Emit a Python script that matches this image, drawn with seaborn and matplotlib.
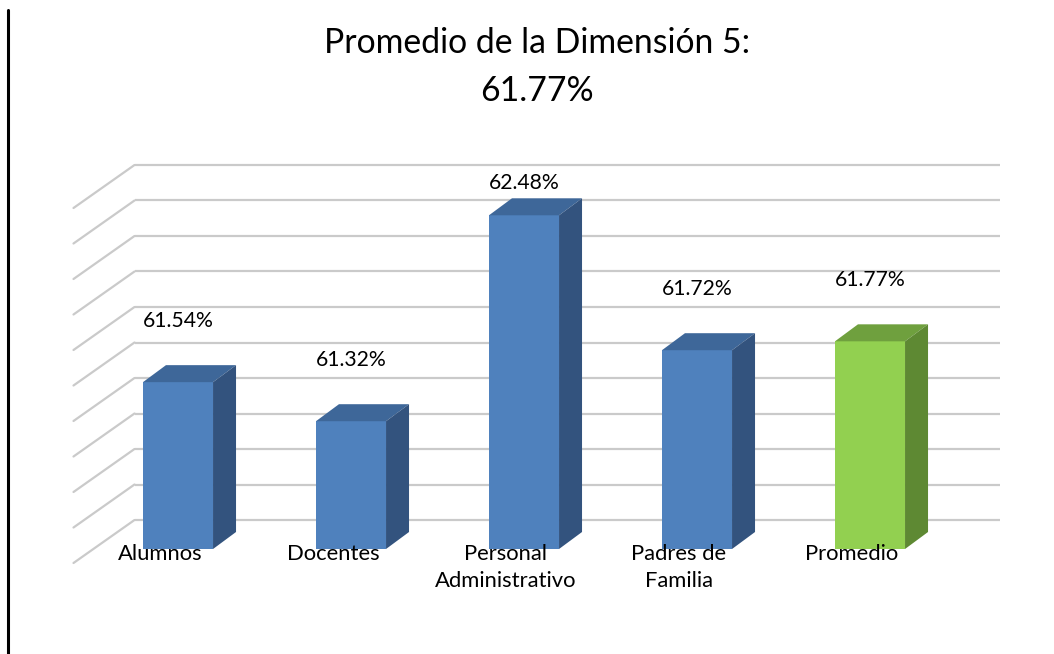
import numpy as np
import pandas as pd
import matplotlib
matplotlib.use("Agg")
import matplotlib.pyplot as plt
from matplotlib.patches import Polygon
from matplotlib.lines import Line2D
import seaborn as sns

# ---------------- data ----------------
categories = ["Alumnos", "Docentes", "Personal\nAdministrativo", "Padres de\nFamilia", "Promedio"]
values = [61.54, 61.32, 62.48, 61.72, 61.77]
value_labels = ["61.54%", "61.32%", "62.48%", "61.72%", "61.77%"]
title_lines = ["Promedio de la Dimensión 5:", "61.77%"]
axis_min, axis_max, axis_step = 60.6, 62.6, 0.2

# ---------------- style ----------------
front_colors = ["#4F81BD", "#4F81BD", "#4F81BD", "#4F81BD", "#92D050"]
top_colors = ["#3E6799", "#3E6799", "#3E6799", "#3E6799", "#6FA03E"]
side_colors = ["#33537E", "#33537E", "#33537E", "#33537E", "#5E8933"]
grid_color = "#CACACA"

W, H, DPI = 1054, 654, 100
X0_PX, STEP_PX = 178.0, 173.0          # pixel x of first category, spacing
BASE_PX, PX_PER_UNIT = 549.0, 177.5    # pixel y (from top) of axis_min on bar plane
BAR_DX, BAR_DY = 23.0, 17.0            # bar depth (px)
WALL_DX, WALL_DY = 43.0, 29.0          # back wall offset from bar plane (px)
FLOOR_DX, FLOOR_DY = -18.0, -14.0      # floor front edge offset (px)
LABEL_OFF_PX = 61.0
LABEL_TOP_PX = 183.0

sns.set_style("white")
plt.rcParams["font.family"] = ["Lato", "DejaVu Sans"]

fig = plt.figure(figsize=(W / DPI, H / DPI), dpi=DPI)
ax = fig.add_axes([0, 0, 1, 1])

ux = 1.0 / STEP_PX       # data units per pixel (x)
uy = 1.0 / PX_PER_UNIT   # data units per pixel (y)

# ---------------- back wall gridlines + left side wall ----------------
n = len(categories)
left = -0.5
right = n - 0.5
grid_vals = np.arange(axis_min, axis_max + axis_step / 2, axis_step)
for g in grid_vals:
    yw = g + WALL_DY * uy
    ax.plot([left + WALL_DX * ux, right + WALL_DX * ux], [yw, yw],
            color=grid_color, lw=1.6, zorder=1, solid_capstyle="butt")
    ax.plot([left + FLOOR_DX * ux, left + WALL_DX * ux],
            [g + FLOOR_DY * uy, yw], color=grid_color, lw=1.6, zorder=1)

# ---------------- bars (front faces) ----------------
df = pd.DataFrame({"cat": categories, "val": values})
sns.barplot(data=df, x="cat", y="val", hue="cat", palette=front_colors,
            legend=False, width=0.405, ax=ax, saturation=1, zorder=3,
            edgecolor="none")
ax.set_xlim(-X0_PX / STEP_PX, (W - X0_PX) / STEP_PX)
ax.set_ylim(axis_min - (H - BASE_PX) / PX_PER_UNIT, axis_min + BASE_PX / PX_PER_UNIT)
ax.axis("off")

bars = sorted(ax.patches, key=lambda p: p.get_x())
for i, p in enumerate(bars):
    top = p.get_height()
    p.set_y(axis_min)
    p.set_height(top - axis_min)
    x0 = p.get_x()
    x1 = x0 + p.get_width()
    dx, dy = BAR_DX * ux, BAR_DY * uy
    top_face = Polygon([(x0, top), (x1, top), (x1 + dx, top + dy), (x0 + dx, top + dy)],
                       closed=True, facecolor=top_colors[i], edgecolor="none", zorder=3)
    side_face = Polygon([(x1, axis_min), (x1 + dx, axis_min + dy), (x1 + dx, top + dy), (x1, top)],
                        closed=True, facecolor=side_colors[i], edgecolor="none", zorder=3)
    ax.add_patch(top_face)
    ax.add_patch(side_face)

    # value label
    cap = axis_min + (BASE_PX - LABEL_TOP_PX) * uy
    ly = min(top + LABEL_OFF_PX * uy, cap)
    ax.text(x0 + p.get_width() / 2, ly, value_labels[i], ha="center", va="center",
            fontsize=15.2, color="#000000", zorder=5)

    # category label (on the floor front plane)
    ax.annotate(categories[i], xy=(i + FLOOR_DX * ux, axis_min),
                xytext=(0, 5), textcoords="offset pixels",
                ha="center", va="top", multialignment="center",
                fontsize=15.8, color="#000000", linespacing=1.42, zorder=6)

# ---------------- title ----------------
fig.text(537 / W, 1 - 43 / H, title_lines[0], ha="center", va="center",
         fontsize=24.3, color="#000000")
fig.text(537 / W, 1 - 91 / H, title_lines[1], ha="center", va="center",
         fontsize=24.3, color="#000000")

# ---------------- left border line ----------------
fig.add_artist(Line2D([7.5 / W, 7.5 / W], [0, 1 - 10 / H], transform=fig.transFigure,
                      color="black", lw=2.2))

fig.savefig("out.png", dpi=DPI)
